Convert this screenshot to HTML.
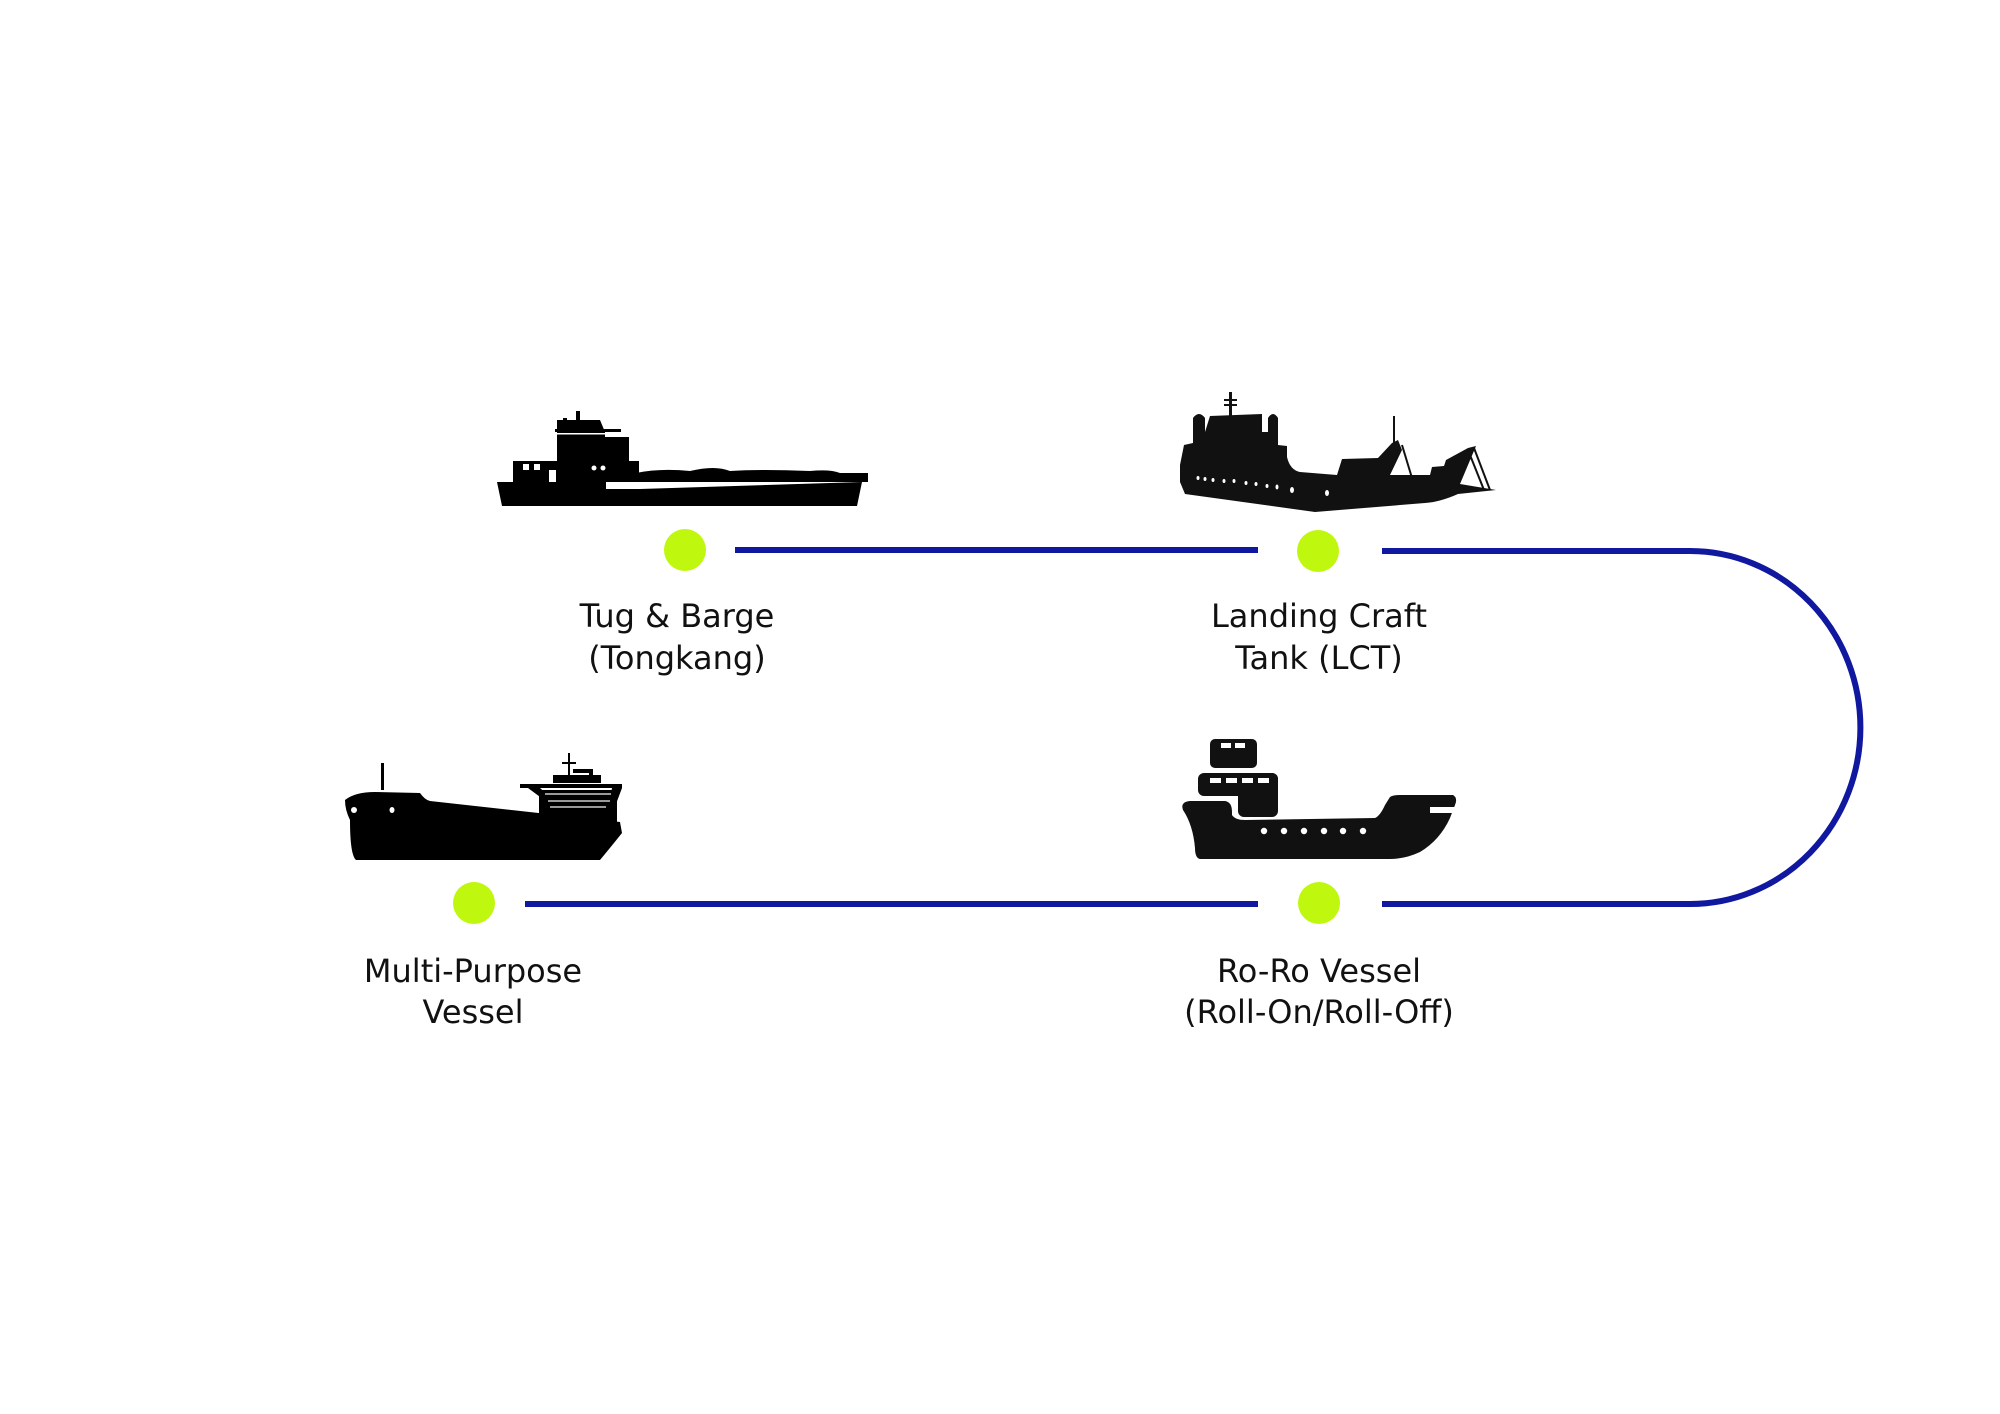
<!DOCTYPE html>
<html><head><meta charset="utf-8"><style>
html,body{margin:0;padding:0;background:#fff;}
svg{display:block}
text{font-family:"DejaVu Sans","Liberation Sans",sans-serif;font-size:32px;fill:#111;text-anchor:middle}
</style></head><body>
<svg width="2000" height="1414" viewBox="0 0 2000 1414" xmlns="http://www.w3.org/2000/svg">
<rect width="2000" height="1414" fill="#fff"/>
<g stroke="#1018a0" stroke-width="6" fill="none">
<line x1="735" y1="550" x2="1258" y2="550"/>
<line x1="1382" y1="551" x2="1690" y2="551"/>
<path d="M1690 551 A170 176 0 0 1 1690 904"/>
<line x1="1382" y1="904" x2="1690" y2="904"/>
<line x1="525" y1="904" x2="1258" y2="904"/>
</g>
<g fill="#c0f70e">
<circle cx="685" cy="550" r="21"/>
<circle cx="1318" cy="551" r="21"/>
<circle cx="474" cy="903" r="21"/>
<circle cx="1319" cy="903" r="21"/>
</g>
<!-- Tug & Barge -->
<g fill="#000">
<polygon points="497,482 606,482 606,489 640,489 862,482 857,506 502,506"/>
<rect x="610" y="473" width="258" height="9"/>
<path d="M636 473 Q660 468 690 471 Q715 465 730 471 Q760 469 810 471 Q830 469 840 473 Z"/>
<rect x="513" y="461" width="126" height="21"/>
<rect x="557" y="437" width="72" height="45"/>
<polygon points="557,438 557,420 600,420 605,432 605,438"/>
<rect x="555" y="429" width="66" height="3"/>
<rect x="563" y="418" width="4" height="11"/>
<rect x="576" y="411" width="4" height="18"/>
</g>
<g fill="#fff">
<rect x="557" y="433" width="48" height="1.5"/>
<rect x="523" y="464" width="6" height="6"/><rect x="534" y="464" width="6" height="6"/>
<rect x="549" y="470" width="7" height="12"/>
<circle cx="594" cy="468" r="2.5"/><circle cx="603" cy="468" r="2.5"/>
</g>
<!-- LCT -->
<g fill="#111">
<path d="M1180 465 L1184 445 L1193 443 L1193 418 Q1199 410 1205 418 L1205 432 L1210 416 L1262 414 L1262 432 L1268 432 L1268 418 Q1273 410 1278 418 L1278 445 L1287 446 L1287 457 Q1290 470 1300 472 L1337 475 L1342 459 L1378 458 L1392 443 L1398 440 L1402 450 L1390 475 L1430 475 L1432 467 L1444 466 L1446 460 L1468 448 L1476 446 L1460 484 L1496 490 L1458 494 Q1440 502 1425 503 L1315 512 L1185 494 L1180 482 Z"/>
<rect x="1229" y="392" width="3" height="25"/>
<rect x="1224" y="399" width="13" height="2"/><rect x="1224" y="404" width="13" height="2"/>
<rect x="1393" y="416" width="2" height="27"/>
<line x1="1402" y1="445" x2="1412" y2="478" stroke="#111" stroke-width="2"/>
<line x1="1474" y1="448" x2="1490" y2="490" stroke="#111" stroke-width="2"/>
<line x1="1468" y1="450" x2="1484" y2="490" stroke="#111" stroke-width="2"/>
</g>
<g fill="#fff">
<ellipse cx="1198" cy="478" rx="1.5" ry="2"/><ellipse cx="1205" cy="479" rx="1.5" ry="2"/><ellipse cx="1213" cy="480" rx="1.5" ry="2"/><ellipse cx="1224" cy="481" rx="1.5" ry="2"/><ellipse cx="1234" cy="481" rx="1.5" ry="2"/><ellipse cx="1246" cy="483" rx="1.5" ry="2"/><ellipse cx="1256" cy="484" rx="1.5" ry="2"/><ellipse cx="1267" cy="486" rx="1.5" ry="2"/><ellipse cx="1277" cy="487" rx="1.5" ry="2.5"/><ellipse cx="1292" cy="490" rx="2" ry="3"/><ellipse cx="1327" cy="493" rx="2" ry="3"/>
</g>
<!-- Multi-Purpose -->
<g fill="#000">
<path d="M345 800 Q355 792 375 792 L420 793 Q425 800 430 801 L620 822 L622 833 Q610 848 600 860 L356 860 Q350 855 350 820 Q345 810 345 800 Z"/>
<rect x="381" y="763" width="3" height="27"/>
<rect x="520" y="784" width="102" height="4"/>
<rect x="539" y="790" width="78" height="33"/>
<polygon points="528,788 540,788 560,806 555,808"/>
<polygon points="612,788 622,788 610,820 606,820"/>
<rect x="553" y="775" width="48" height="8"/>
<rect x="568" y="753" width="2" height="25"/>
<rect x="562" y="762" width="14" height="2"/>
<rect x="573" y="769" width="20" height="4"/>
<rect x="589" y="769" width="4" height="8"/>
</g>
<g fill="#fff">
<ellipse cx="354" cy="810" rx="3" ry="3"/><ellipse cx="392" cy="810" rx="2.5" ry="3"/>
<rect x="545" y="793" width="66" height="2" opacity=".6"/><rect x="548" y="800" width="62" height="2" opacity=".6"/><rect x="550" y="806" width="56" height="2" opacity=".6"/>
</g>
<!-- Ro-Ro -->
<g fill="#111">
<path d="M1190 801 L1225 801 Q1232 802 1232 812 L1232 815 Q1235 820 1245 820 L1375 818 Q1380 816 1385 805 L1390 797 Q1393 795 1400 795 L1453 795 Q1458 798 1455 805 L1450 818 Q1440 840 1420 852 Q1405 859 1390 859 L1200 859 Q1195 858 1195 848 Q1193 825 1183 810 Q1180 802 1190 801 Z"/>
<rect x="1198" y="773" width="80" height="23" rx="6"/>
<rect x="1238" y="773" width="40" height="44" rx="6"/>
<rect x="1210" y="739" width="47" height="29" rx="5"/>
</g>
<g fill="#fff">
<rect x="1430" y="807" width="28" height="6"/>
<rect x="1210" y="778" width="11" height="5"/><rect x="1226" y="778" width="11" height="5"/><rect x="1242" y="778" width="11" height="5"/><rect x="1258" y="778" width="11" height="5"/>
<rect x="1221" y="743" width="10" height="5"/><rect x="1235" y="743" width="10" height="5"/>
<circle cx="1264" cy="831" r="3.2"/><circle cx="1284" cy="831" r="3.2"/><circle cx="1304" cy="831" r="3.2"/><circle cx="1324" cy="831" r="3.2"/><circle cx="1343" cy="831" r="3.2"/><circle cx="1363" cy="831" r="3.2"/>
</g>
<text x="677" y="627">Tug &amp; Barge</text>
<text x="677" y="669">(Tongkang)</text>
<text x="1319" y="627">Landing Craft</text>
<text x="1319" y="669">Tank (LCT)</text>
<text x="473" y="982">Multi-Purpose</text>
<text x="473" y="1023">Vessel</text>
<text x="1319" y="982">Ro-Ro Vessel</text>
<text x="1319" y="1023">(Roll-On/Roll-Off)</text>
</svg>
</body></html>
